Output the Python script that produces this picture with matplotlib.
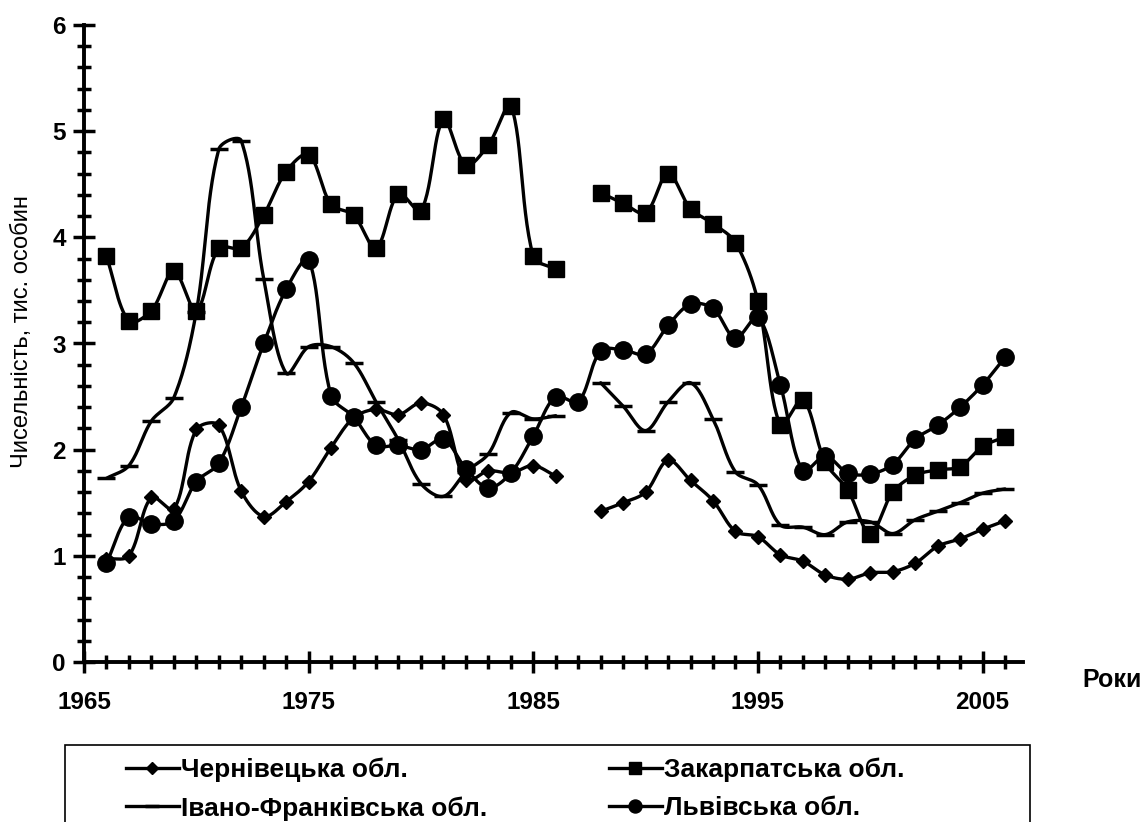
#! /usr/bin/env python3
import numpy as np
import matplotlib
matplotlib.use('Agg')
import matplotlib.pyplot as plt
from matplotlib.lines import Line2D
from matplotlib.patches import Rectangle
from matplotlib.ticker import MultipleLocator, FixedLocator

plt.rcParams['font.family'] = ['Liberation Sans', 'DejaVu Sans']

years = list(range(1966, 2007))
nan = np.nan

chernivtsi = [0.97, 1.00, 1.55, 1.44, 2.19, 2.23, 1.61, 1.37, 1.51, 1.70,
              2.02, 2.30, 2.38, 2.33, 2.44, 2.33, 1.71, 1.80, 1.78, 1.85,
              1.75, nan, 1.42, 1.50, 1.60, 1.90, 1.71, 1.52, 1.23, 1.18,
              1.01, 0.95, 0.82, 0.78, 0.84, 0.85, 0.93, 1.09, 1.16, 1.25, 1.33]
zakarpattia = [3.82, 3.21, 3.31, 3.68, 3.31, 3.90, 3.90, 4.21, 4.62, 4.78,
               4.31, 4.21, 3.90, 4.41, 4.25, 5.11, 4.68, 4.87, 5.24, 3.82,
               3.70, nan, 4.42, 4.32, 4.23, 4.60, 4.27, 4.13, 3.95, 3.40,
               2.23, 2.47, 1.88, 1.62, 1.21, 1.60, 1.76, 1.81, 1.84, 2.03, 2.12]
ivano_frankivsk = [1.73, 1.85, 2.27, 2.49, 3.30, 4.83, 4.91, 3.61, 2.72, 2.97,
                   2.97, 2.82, 2.45, 2.09, 1.68, 1.56, 1.79, 1.96, 2.35, 2.29,
                   2.32, nan, 2.63, 2.41, 2.18, 2.45, 2.63, 2.29, 1.79, 1.67,
                   1.29, 1.27, 1.20, 1.32, 1.32, 1.21, 1.34, 1.42, 1.50, 1.59, 1.63]
lviv = [0.93, 1.37, 1.30, 1.33, 1.70, 1.87, 2.40, 3.00, 3.51, 3.79,
        2.51, 2.31, 2.04, 2.04, 2.00, 2.10, 1.82, 1.64, 1.78, 2.13,
        2.50, 2.45, 2.93, 2.94, 2.90, 3.17, 3.37, 3.33, 3.05, 3.25,
        2.61, 1.80, 1.94, 1.78, 1.77, 1.86, 2.10, 2.23, 2.40, 2.61, 2.87]

labels = ['Чернівецька обл.', 'Закарпатська обл.',
          'Івано-Франківська обл.', 'Львівська обл.']

# pixel scale of the axes, used only to shape the smoothed curves
PX_X, PX_Y = 22.45, 106.2


def smooth(x, y, n=30):
    # Excel-like smoothed line: Bezier segments, control arms scaled by
    # segment length so short segments next to long ones do not overshoot
    x = np.asarray(x, float)
    y = np.asarray(y, float)
    ok = np.isfinite(y)
    xs, ys = [], []
    t = np.linspace(0, 1, n)[:, None]
    i = 0
    while i < len(y):
        if not ok[i]:
            i += 1
            continue
        j = i
        while j < len(y) and ok[j]:
            j += 1
        p = np.column_stack([x[i:j] * PX_X, y[i:j] * PX_Y])
        k = len(p)
        L = np.hypot(*np.diff(p, axis=0).T)
        for s in range(k - 1):
            a = s - 1 if s > 0 else s
            b = s + 2 if s + 2 < k else s + 1
            la = L[s - 1] if s > 0 else 0.0
            lb = L[s + 1] if s + 2 < k else 0.0
            f1 = L[s] / (la + L[s]) if la + L[s] > 0 else 0.5
            f2 = L[s] / (L[s] + lb) if lb + L[s] > 0 else 0.5
            c1 = p[s] + (p[s + 1] - p[a]) * f1 / 3
            c2 = p[s + 1] - (p[b] - p[s]) * f2 / 3
            pts = (1 - t) ** 3 * p[s] + 3 * (1 - t) ** 2 * t * c1 \
                + 3 * (1 - t) * t ** 2 * c2 + t ** 3 * p[s + 1]
            xs.extend(pts[:, 0] / PX_X)
            ys.extend(pts[:, 1] / PX_Y)
        xs.append(nan)
        ys.append(nan)
        i = j
    return xs, ys


fig = plt.figure(figsize=(11.48, 8.22), dpi=100)
ax = fig.add_axes([84 / 1148, 1 - 662 / 822, (1023 - 84) / 1148, (662 - 25) / 822])

series = [
    (chernivtsi, dict(marker='D', ms=7.5)),
    (zakarpattia, dict(marker='s', ms=12)),
    (ivano_frankivsk, dict(marker='_', ms=13, mew=2.5)),
    (lviv, dict(marker='o', ms=12.5)),
]
handles = []
for (vals, mk), lab in zip(series, labels):
    sx, sy = smooth(years, vals)
    ax.plot(sx, sy, color='black', lw=2.4, solid_capstyle='round')
    ax.plot(years, vals, linestyle='none', color='black', **mk)
    hmk = dict(mk)
    hmk['ms'] = mk['ms'] * 0.75
    handles.append(Line2D([], [], color='black', lw=2.4, **hmk))

ax.set_xlim(1965, 2006.8)
ax.set_ylim(0, 6)
ax.xaxis.set_major_locator(FixedLocator(range(1965, 2006, 10)))
ax.xaxis.set_minor_locator(MultipleLocator(1))
ax.yaxis.set_major_locator(MultipleLocator(1))
ax.yaxis.set_minor_locator(MultipleLocator(0.2))
for s in ['top', 'right']:
    ax.spines[s].set_visible(False)
for s in ['left', 'bottom']:
    ax.spines[s].set_linewidth(2.8)
ax.tick_params(which='major', direction='inout', length=16, width=2.5,
               labelsize=17.5, pad=5)
ax.tick_params(which='minor', direction='inout', length=10, width=2.5)
ax.tick_params(axis='x', pad=13)
for lbl in ax.get_xticklabels() + ax.get_yticklabels():
    lbl.set_fontweight('bold')

fig.text(22 / 1148, 1 - 332 / 822, 'Чисельність, тис. особин', fontsize=17,
         rotation=90, ha='center', va='center')
fig.text(1112 / 1148, 1 - 680 / 822, 'Роки', fontsize=18, fontweight='bold',
         ha='center', va='center')

# legend box (its bottom is cut off by the figure edge, as in the original)
fig.patches.append(Rectangle((65 / 1148, -0.05), (1030 - 65) / 1148,
                             1 - 745 / 822 + 0.05, transform=fig.transFigure,
                             fill=False, edgecolor='black', lw=1.2))
order = [0, 2, 1, 3]
fig.legend([handles[i] for i in order], [labels[i] for i in order], ncol=2,
           frameon=False, loc='upper left',
           bbox_to_anchor=(126 / 1148, 1 - 758 / 822),
           prop={'weight': 'bold', 'size': 19}, handlelength=2.0,
           handletextpad=0.1, columnspacing=4.6, labelspacing=0.52,
           borderaxespad=0, borderpad=0)

fig.savefig('out.png', dpi=100)
